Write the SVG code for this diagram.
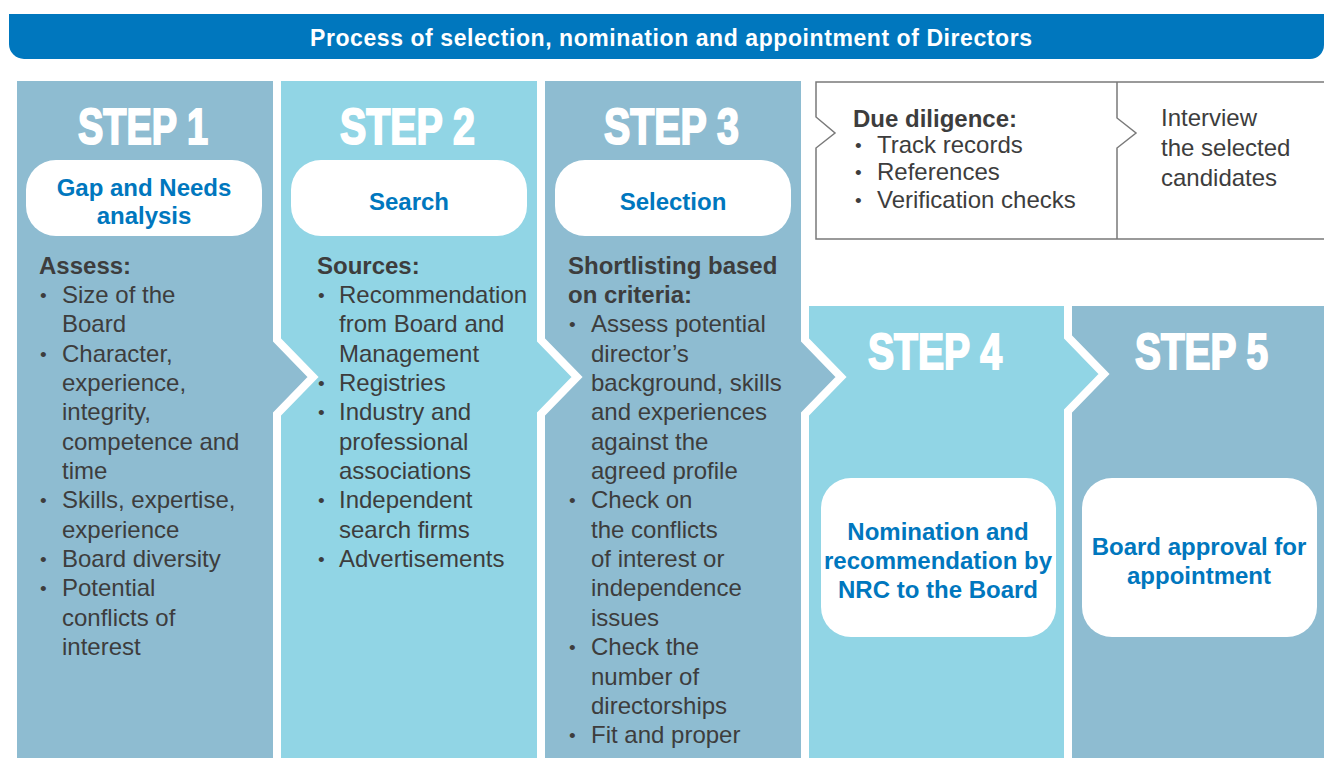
<svg xmlns="http://www.w3.org/2000/svg" width="1324" height="758" viewBox="0 0 1324 758">
<style>
.dark{fill:#8EBCD1}
.light{fill:#91D5E5}
.sep{fill:none;stroke:#fff;stroke-width:8;stroke-linejoin:miter;stroke-miterlimit:10}
.step{font-family:"Liberation Sans",Arial,sans-serif;font-weight:bold;font-size:50px;fill:#fff;stroke:#fff;stroke-width:2}
.box{fill:#fff}
.bt{font-family:"Liberation Sans",Arial,sans-serif;font-weight:bold;font-size:24px;fill:#0077BE;text-anchor:middle}
.tx{font-family:"Liberation Sans",Arial,sans-serif;font-size:24px;fill:#3d3d3d}
.bu{font-family:"Liberation Sans",Arial,sans-serif;font-size:19px;fill:#3d3d3d}
.hd{font-weight:bold}
.dd{fill:#fff;stroke:#7a7a7a;stroke-width:1.5}
.ln{fill:none;stroke:#7a7a7a;stroke-width:1.5}
.title{font-family:"Liberation Sans",Arial,sans-serif;font-weight:bold;font-size:23px;fill:#fff;text-anchor:middle}
</style>
<rect x="0" y="0" width="1324" height="758" fill="#fff"/>

<g id="header">
<path d="M9,14 H1324 V45 A14,14 0 0 1 1310,59 H24 A15,15 0 0 1 9,44 Z" fill="#0077BE"/>
<text class="title" x="671" y="46" textLength="722">Process of selection, nomination and appointment of Directors</text>
</g>

<g id="duediligence">
<path class="dd" d="M1330,82 H816 V117 L835,133 L816,148 V239 H1330"/>
<path class="ln" d="M1117,82 V118 L1136,133 L1117,148 V239"/>
<text class="tx hd" x="853" y="127">Due diligence:</text>
<text class="bu" x="855" y="152">•</text><text class="tx" x="877" y="153">Track records</text>
<text class="bu" x="855" y="179">•</text><text class="tx" x="877" y="180">References</text>
<text class="bu" x="855" y="207">•</text><text class="tx" x="877" y="208">Verification checks</text>
<text class="tx" x="1161" y="126">Interview</text>
<text class="tx" x="1161" y="156">the selected</text>
<text class="tx" x="1161" y="186">candidates</text>
</g>

<g id="step5">
<rect class="dark" x="1068" y="306" width="256" height="452"/>
<text class="step" x="1135" y="369" textLength="133" lengthAdjust="spacingAndGlyphs">STEP 5</text>
<rect class="box" x="1082" y="478" width="235" height="159" rx="30"/>
<text class="bt" x="1199" y="555">Board approval for</text>
<text class="bt" x="1199" y="584">appointment</text>
</g>

<g id="step4">
<polygon class="light" points="805,306 1068,306 1068,337 1104,374 1068,411 1068,758 805,758"/>
<polyline class="sep" points="1068,306 1068,337 1104,374 1068,411 1068,758"/>
<text class="step" x="868" y="369" textLength="134" lengthAdjust="spacingAndGlyphs">STEP 4</text>
<rect class="box" x="821" y="478" width="235" height="159" rx="30"/>
<text class="bt" x="938" y="540">Nomination and</text>
<text class="bt" x="938" y="569">recommendation by</text>
<text class="bt" x="938" y="598">NRC to the Board</text>
</g>

<g id="step3">
<polygon class="dark" points="541,81 805,81 805,340 841,377 805,414 805,758 541,758"/>
<polyline class="sep" points="805,81 805,340 841,377 805,414 805,758"/>
<text class="step" x="604" y="144" textLength="135" lengthAdjust="spacingAndGlyphs">STEP 3</text>
<rect class="box" x="555" y="160" width="236" height="76" rx="30"/>
<text class="bt" x="673" y="210">Selection</text>
<text class="tx hd" x="568" y="274">Shortlisting based</text>
<text class="tx hd" x="568" y="303">on criteria:</text>
<text class="bu" x="569" y="331">•</text><text class="tx" x="591" y="332">Assess potential</text>
<text class="tx" x="591" y="362">director’s</text>
<text class="tx" x="591" y="391">background, skills</text>
<text class="tx" x="591" y="420">and experiences</text>
<text class="tx" x="591" y="450">against the</text>
<text class="tx" x="591" y="479">agreed profile</text>
<text class="bu" x="569" y="507">•</text><text class="tx" x="591" y="508">Check on</text>
<text class="tx" x="591" y="538">the conflicts</text>
<text class="tx" x="591" y="567">of interest or</text>
<text class="tx" x="591" y="596">independence</text>
<text class="tx" x="591" y="626">issues</text>
<text class="bu" x="569" y="654">•</text><text class="tx" x="591" y="655">Check the</text>
<text class="tx" x="591" y="685">number of</text>
<text class="tx" x="591" y="714">directorships</text>
<text class="bu" x="569" y="742">•</text><text class="tx" x="591" y="743">Fit and proper</text>
</g>

<g id="step2">
<polygon class="light" points="277,81 541,81 541,340 577,377 541,414 541,758 277,758"/>
<polyline class="sep" points="541,81 541,340 577,377 541,414 541,758"/>
<text class="step" x="340" y="144" textLength="135" lengthAdjust="spacingAndGlyphs">STEP 2</text>
<rect class="box" x="291" y="160" width="236" height="76" rx="30"/>
<text class="bt" x="409" y="210">Search</text>
<text class="tx hd" x="317" y="274">Sources:</text>
<text class="bu" x="318" y="302">•</text><text class="tx" x="339" y="303">Recommendation</text>
<text class="tx" x="339" y="332">from Board and</text>
<text class="tx" x="339" y="362">Management</text>
<text class="bu" x="318" y="390">•</text><text class="tx" x="339" y="391">Registries</text>
<text class="bu" x="318" y="419">•</text><text class="tx" x="339" y="420">Industry and</text>
<text class="tx" x="339" y="450">professional</text>
<text class="tx" x="339" y="479">associations</text>
<text class="bu" x="318" y="507">•</text><text class="tx" x="339" y="508">Independent</text>
<text class="tx" x="339" y="538">search firms</text>
<text class="bu" x="318" y="566">•</text><text class="tx" x="339" y="567">Advertisements</text>
</g>

<g id="step1">
<polygon class="dark" points="17,81 277,81 277,340 313,377 277,414 277,758 17,758"/>
<polyline class="sep" points="277,81 277,340 313,377 277,414 277,758"/>
<text class="step" x="78" y="144" textLength="130" lengthAdjust="spacingAndGlyphs">STEP 1</text>
<rect class="box" x="26" y="160" width="236" height="76" rx="30"/>
<text class="bt" x="144" y="196">Gap and Needs</text>
<text class="bt" x="144" y="224">analysis</text>
<text class="tx hd" x="39" y="274">Assess:</text>
<text class="bu" x="40" y="302">•</text><text class="tx" x="62" y="303">Size of the</text>
<text class="tx" x="62" y="332">Board</text>
<text class="bu" x="40" y="361">•</text><text class="tx" x="62" y="362">Character,</text>
<text class="tx" x="62" y="391">experience,</text>
<text class="tx" x="62" y="420">integrity,</text>
<text class="tx" x="62" y="450">competence and</text>
<text class="tx" x="62" y="479">time</text>
<text class="bu" x="40" y="507">•</text><text class="tx" x="62" y="508">Skills, expertise,</text>
<text class="tx" x="62" y="538">experience</text>
<text class="bu" x="40" y="566">•</text><text class="tx" x="62" y="567">Board diversity</text>
<text class="bu" x="40" y="595">•</text><text class="tx" x="62" y="596">Potential</text>
<text class="tx" x="62" y="626">conflicts of</text>
<text class="tx" x="62" y="655">interest</text>
</g>
</svg>
